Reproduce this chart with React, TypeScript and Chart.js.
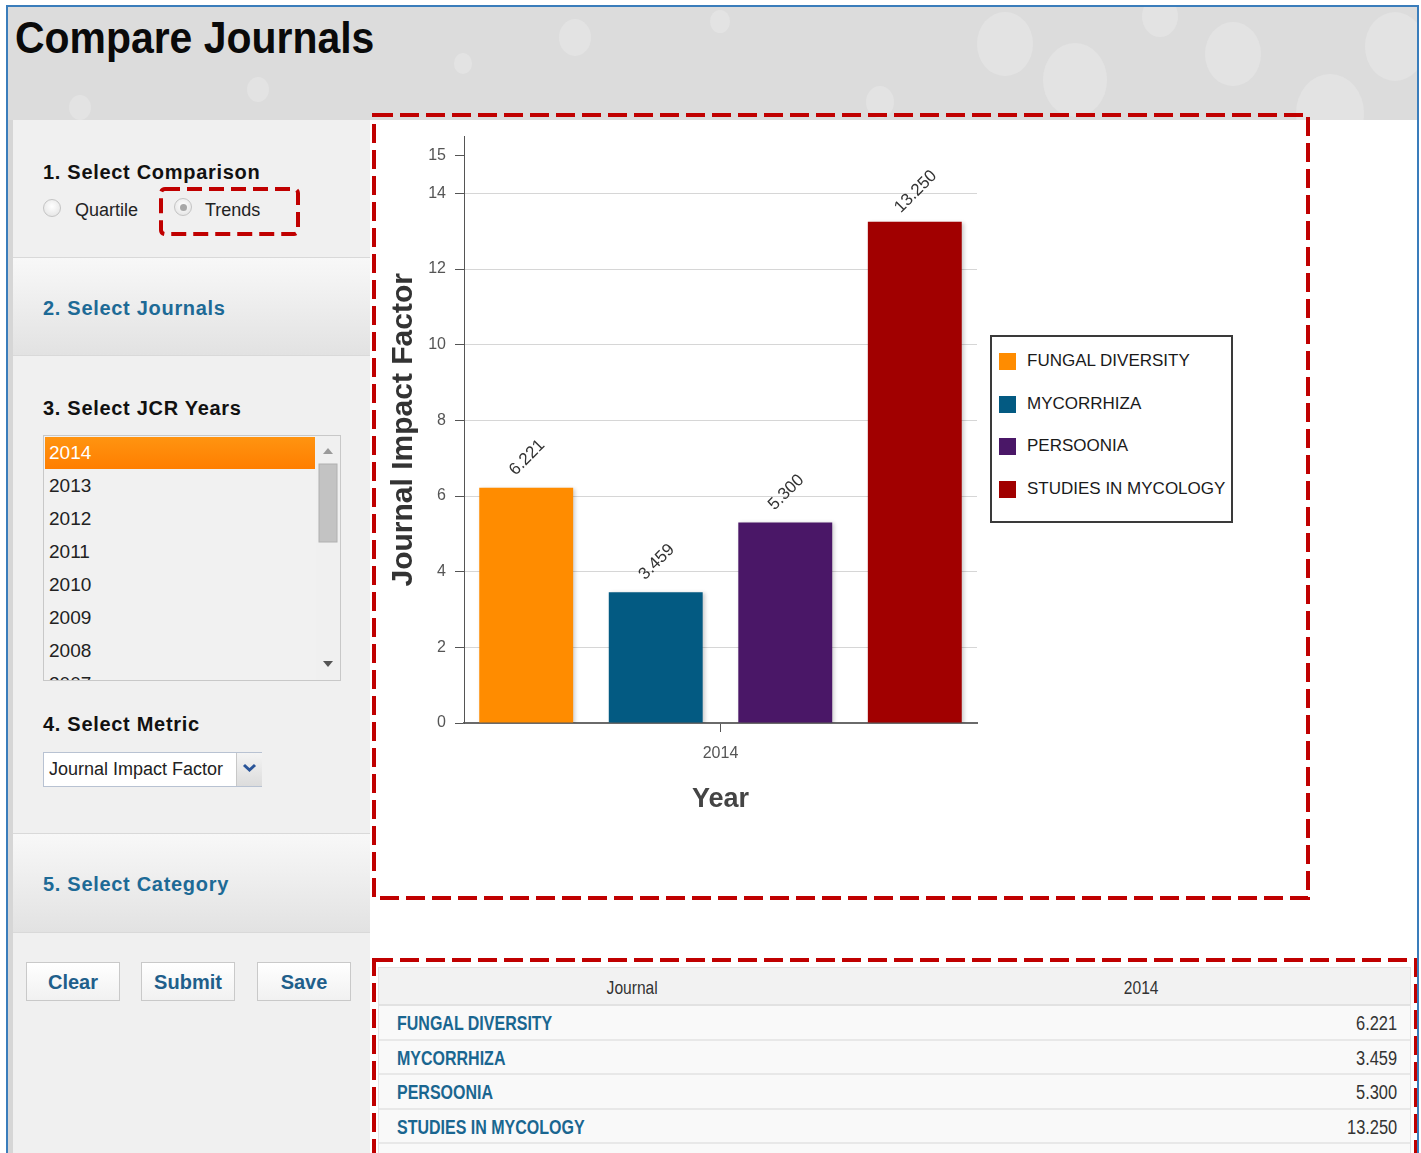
import React, { useEffect, useRef } from 'react';
import { Chart, registerables } from 'chart.js';

Chart.register(...registerables);

// ---------- data ----------
const categories = ['2014'];
const journals = ['FUNGAL DIVERSITY', 'MYCORRHIZA', 'PERSOONIA', 'STUDIES IN MYCOLOGY'];
const impactFactors = [6.221, 3.459, 5.3, 13.25];
const seriesColors = ['#ff8c00', '#035a82', '#4a1767', '#a10000'];
const yTickValues = [0, 2, 4, 6, 8, 10, 12, 14, 15];
const jcrYears = ['2014', '2013', '2012', '2011', '2010', '2009', '2008', '2007'];
const bubbles = [
  [575, 35, 16], [1005, 40, 28], [1075, 75, 32], [1233, 50, 28], [1330, 108, 34],
  [1395, 42, 30], [1160, 14, 18], [258, 88, 11], [80, 106, 11], [463, 62, 9],
  [880, 100, 14], [720, 20, 10],
];

const FONT = '"Liberation Sans", Arial, Helvetica, sans-serif';

const valueLabels = {
  id: 'valueLabels',
  beforeDatasetsDraw(chart: any) {
    const ctx = chart.ctx;
    ctx.save();
    ctx.shadowColor = 'rgba(0,0,0,0.2)';
    ctx.shadowBlur = 4;
    ctx.shadowOffsetX = 2;
    ctx.shadowOffsetY = 1;
  },
  afterDatasetsDraw(chart: any) {
    const ctx = chart.ctx;
    ctx.restore();
    ctx.save();
    ctx.font = '17px ' + FONT;
    ctx.fillStyle = '#333';
    ctx.textAlign = 'center';
    ctx.textBaseline = 'middle';
    chart.data.datasets.forEach((ds: any, i: number) => {
      const meta = chart.getDatasetMeta(i);
      meta.data.forEach((el: any, j: number) => {
        const v = ds.data[j] as number;
        ctx.save();
        ctx.translate(el.x + 1, el.y - 30);
        ctx.rotate(-Math.PI / 4);
        ctx.fillText(v.toFixed(3), 0, 0);
        ctx.restore();
      });
    });
    ctx.restore();
  },
};

function DashedBox({ x, y, w, h, dash = 19, gap = 7, sw = 4, rx = 0 }: any) {
  return (
    <svg
      style={{ position: 'absolute', left: x - sw, top: y - sw, overflow: 'visible' }}
      width={w + sw * 2}
      height={h + sw * 2}
    >
      <rect
        x={sw}
        y={sw}
        width={w}
        height={h}
        rx={rx}
        fill="none"
        stroke="#c00000"
        strokeWidth={sw}
        strokeDasharray={`${dash} ${gap}`}
      />
    </svg>
  );
}

function Txt({ x, y, size, children, style }: any) {
  return (
    <div
      style={{
        position: 'absolute',
        left: x,
        top: y - size * 0.6,
        fontSize: size,
        lineHeight: `${size * 1.2}px`,
        whiteSpace: 'nowrap',
        fontFamily: FONT,
        ...style,
      }}
    >
      {children}
    </div>
  );
}

function ChartCanvas() {
  const ref = useRef<HTMLCanvasElement>(null);
  useEffect(() => {
    if (!ref.current) return;
    const chart = new Chart(ref.current, {
      type: 'bar',
      data: {
        labels: categories,
        datasets: journals.map((name, i) => ({
          label: name,
          data: [impactFactors[i]],
          backgroundColor: seriesColors[i],
          borderWidth: 0,
          categoryPercentage: 1.01,
          barPercentage: 0.725,
        })),
      },
      options: {
        responsive: false,
        animation: false,
        layout: { padding: { left: 0, top: 16, right: 327, bottom: 0 } },
        plugins: { legend: { display: false }, tooltip: { enabled: false } },
        scales: {
          x: {
            grid: {
              display: true,
              drawOnChartArea: false,
              drawTicks: true,
              tickLength: 9,
              offset: false,
              color: '#555',
              tickColor: '#555',
            },
            border: { display: true, color: '#6a6a6a', width: 2 },
            ticks: { padding: 12, color: '#555', font: { family: FONT, size: 16 } },
            title: {
              display: true,
              text: 'Year',
              color: '#444',
              font: { family: FONT, size: 27, weight: 'bold' },
              padding: { top: 0, bottom: 80 },
            },
            afterFit: (s: any) => {
              s.height = 173;
            },
          },
          y: {
            min: 0,
            max: 15.5,
            afterBuildTicks: (s: any) => {
              s.ticks = yTickValues.map((v) => ({ value: v }));
            },
            ticks: {
              padding: 9,
              color: '#555',
              font: { family: FONT, size: 16 },
              callback: (v: any) => String(v),
            },
            grid: {
              color: (c: any) => (c.tick && c.tick.value === 15 ? 'rgba(0,0,0,0)' : '#d6d6d6'),
              tickColor: '#555',
              tickLength: 9,
              lineWidth: 1,
            },
            border: { display: true, color: '#555', width: 1 },
            title: {
              display: true,
              text: 'Journal Impact Factor',
              color: '#333',
              font: { family: FONT, size: 30, weight: 'bold' },
              padding: { top: 10, bottom: 0 },
            },
            afterFit: (s: any) => {
              s.width = 88;
            },
          },
        },
      } as any,
      plugins: [valueLabels as any],
    });
    return () => chart.destroy();
  }, []);
  return (
    <canvas
      ref={ref}
      width={928}
      height={778}
      style={{ position: 'absolute', left: 376, top: 118, width: 928, height: 778 }}
    />
  );
}

const headStyle = { fontWeight: 'bold', color: '#111', letterSpacing: '0.7px' };
const blueHead = { fontWeight: 'bold', color: '#1d6a96', letterSpacing: '0.7px' };

function Radio({ x, y, checked }: any) {
  return (
    <div
      style={{
        position: 'absolute',
        left: x - 9,
        top: y - 9,
        width: 16,
        height: 16,
        borderRadius: '50%',
        border: '1px solid #c4c4c4',
        background: 'radial-gradient(circle at 50% 40%, #ffffff, #e0e0e0)',
      }}
    >
      {checked && (
        <div
          style={{
            position: 'absolute',
            left: 4.5,
            top: 4.5,
            width: 7,
            height: 7,
            borderRadius: '50%',
            background: '#a8a8a8',
          }}
        />
      )}
    </div>
  );
}

function Button({ x, label }: any) {
  return (
    <div
      style={{
        position: 'absolute',
        left: x,
        top: 962,
        width: 94,
        height: 39,
        border: '1px solid #c9c9c9',
        background: 'linear-gradient(#ffffff, #f1f1f1)',
        boxSizing: 'border-box',
        textAlign: 'center',
        lineHeight: '39px',
        fontFamily: FONT,
        fontSize: 20,
        fontWeight: 'bold',
        color: '#1f5f8b',
      }}
    >
      {label}
    </div>
  );
}

export default function App() {
  useEffect(() => {
    document.body.style.margin = '0';
  }, []);
  const narrow = (s: number) => ({ display: 'inline-block', transform: `scaleX(${s})`, transformOrigin: 'left center' });
  return (
    <div
      style={{
        position: 'absolute',
        left: 0,
        top: 0,
        width: 1421,
        height: 1153,
        overflow: 'hidden',
        background: '#ffffff',
        fontFamily: FONT,
      }}
    >
      {/* header */}
      <div
        style={{
          position: 'absolute',
          left: 8,
          top: 7,
          width: 1409,
          height: 113,
          background: '#dcdcdc',
          overflow: 'hidden',
        }}
      >
        {bubbles.map(([bx, by, r], i) => (
          <div
            key={i}
            style={{
              position: 'absolute',
              left: bx - 8 - r,
              top: by - 7 - r,
              width: r * 2,
              height: r * 2 * 1.15,
              borderRadius: '50%',
              background: '#e3e3e3',
            }}
          />
        ))}
      </div>
      <div
        style={{
          position: 'absolute',
          left: 15,
          top: 12,
          fontSize: 44,
          fontWeight: 'bold',
          color: '#0a0a0a',
          lineHeight: '52px',
          whiteSpace: 'nowrap',
          transform: 'scaleX(0.93)',
          transformOrigin: 'left top',
        }}
      >
        Compare Journals
      </div>

      {/* left strip + panel */}
      <div style={{ position: 'absolute', left: 8, top: 120, width: 5, height: 1033, background: '#d6d6d6' }} />
      <div style={{ position: 'absolute', left: 13, top: 120, width: 357, height: 1033, background: '#f0f0f0' }} />
      <div
        style={{
          position: 'absolute',
          left: 13,
          top: 257,
          width: 357,
          height: 99,
          background: 'linear-gradient(#f8f8f8, #e2e2e2)',
          borderTop: '1px solid #d9d9d9',
          borderBottom: '1px solid #d9d9d9',
          boxSizing: 'border-box',
        }}
      />
      <div
        style={{
          position: 'absolute',
          left: 13,
          top: 833,
          width: 357,
          height: 100,
          background: 'linear-gradient(#f8f8f8, #e2e2e2)',
          borderTop: '1px solid #d9d9d9',
          borderBottom: '1px solid #d9d9d9',
          boxSizing: 'border-box',
        }}
      />

      <Txt x={43} y={172} size={20} style={headStyle}>1. Select Comparison</Txt>
      <Radio x={52} y={208} checked={false} />
      <Txt x={75} y={211} size={18} style={{ color: '#222' }}>Quartile</Txt>
      <Radio x={183} y={207} checked={true} />
      <Txt x={205} y={211} size={18} style={{ color: '#222' }}>Trends</Txt>

      <Txt x={43} y={308} size={20} style={blueHead}>2. Select Journals</Txt>
      <Txt x={43} y={408} size={20} style={headStyle}>3. Select JCR Years</Txt>

      {/* year list */}
      <div
        style={{
          position: 'absolute',
          left: 43,
          top: 435,
          width: 298,
          height: 246,
          border: '1px solid #c8c8c8',
          boxSizing: 'border-box',
          background: '#f1f1f1',
          overflow: 'hidden',
        }}
      >
        {jcrYears.map((yr, i) => (
          <div
            key={yr}
            style={{
              position: 'absolute',
              left: 1,
              top: 1 + i * 33,
              width: 270,
              height: 32,
              background: i === 0 ? 'linear-gradient(#ff9410, #ff7e00)' : 'transparent',
              color: i === 0 ? '#ffffff' : '#222',
              fontSize: 19,
              lineHeight: '32px',
              paddingLeft: 4,
              boxSizing: 'border-box',
            }}
          >
            {yr}
          </div>
        ))}
        <div style={{ position: 'absolute', left: 272, top: 0, width: 24, height: 244, background: '#f0f0f0' }} />
        <svg style={{ position: 'absolute', left: 272, top: 0 }} width={24} height={244}>
          <polygon points="7,18 17,18 12,12" fill="#9a9a9a" />
          <rect x={3} y={28} width={18} height={78} fill="#c3c3c3" stroke="#b0b0b0" />
          <polygon points="7,225 17,225 12,231" fill="#555" />
        </svg>
      </div>

      <Txt x={43} y={724} size={20} style={headStyle}>4. Select Metric</Txt>
      <div
        style={{
          position: 'absolute',
          left: 43,
          top: 752,
          width: 219,
          height: 35,
          border: '1px solid #b8c2d2',
          boxSizing: 'border-box',
          background: '#fff',
        }}
      >
        <div style={{ position: 'absolute', left: 5, top: 0, fontSize: 18, lineHeight: '33px', color: '#222', whiteSpace: 'nowrap' }}>
          Journal Impact Factor
        </div>
        <div
          style={{
            position: 'absolute',
            left: 192,
            top: 0,
            width: 25,
            height: 33,
            background: 'linear-gradient(#f4f4f4, #dcdcdc)',
            borderLeft: '1px solid #c8c8c8',
          }}
        >
          <svg width={25} height={33}>
            <polyline points="7,12 12.5,17 18,12" fill="none" stroke="#2a5599" strokeWidth={3} />
          </svg>
        </div>
      </div>

      <Txt x={43} y={884} size={20} style={blueHead}>5. Select Category</Txt>

      <Button x={26} label="Clear" />
      <Button x={141} label="Submit" />
      <Button x={257} label="Save" />

      {/* chart */}
      <ChartCanvas />

      {/* legend */}
      <div
        style={{
          position: 'absolute',
          left: 990,
          top: 335,
          width: 243,
          height: 188,
          border: '2px solid #3a3a3a',
          boxSizing: 'border-box',
          background: '#fff',
        }}
      >
        {journals.map((name, i) => (
          <div key={name}>
            <div
              style={{
                position: 'absolute',
                left: 7,
                top: 16 + i * 42.7,
                width: 17,
                height: 17,
                background: seriesColors[i],
              }}
            />
            <div
              style={{
                position: 'absolute',
                left: 35,
                top: 13 + i * 42.7,
                fontSize: 17,
                lineHeight: '22px',
                color: '#1a1a1a',
                whiteSpace: 'nowrap',
              }}
            >
              {name}
            </div>
          </div>
        ))}
      </div>

      {/* table */}
      <div
        style={{
          position: 'absolute',
          left: 378,
          top: 967,
          width: 1033,
          height: 190,
          background: '#f9f9f9',
          borderLeft: '1px solid #e2e2e2',
          borderRight: '1px solid #e2e2e2',
          boxSizing: 'border-box',
        }}
      >
        <div
          style={{
            position: 'absolute',
            left: 0,
            top: 0,
            width: 1031,
            height: 39,
            background: '#f2f2f2',
            borderTop: '1px solid #e2e2e2',
            borderBottom: '2px solid #e2e2e2',
            boxSizing: 'border-box',
          }}
        />
        <div style={{ position: 'absolute', left: 253 - 40, width: 80, top: 9, textAlign: 'center', fontSize: 19, lineHeight: '24px', color: '#333' }}>
          <span style={{ display: 'inline-block', transform: 'scaleX(0.82)' }}>Journal</span>
        </div>
        <div style={{ position: 'absolute', left: 762 - 40, width: 80, top: 9, textAlign: 'center', fontSize: 19, lineHeight: '24px', color: '#333' }}>
          <span style={{ display: 'inline-block', transform: 'scaleX(0.82)' }}>{categories[0]}</span>
        </div>
        {journals.map((name, i) => (
          <div
            key={name}
            style={{
              position: 'absolute',
              left: 0,
              top: 39 + i * 34.6,
              width: 1031,
              height: 34.6,
              borderBottom: '2px solid #e8e8e8',
              boxSizing: 'border-box',
            }}
          >
            <div style={{ position: 'absolute', left: 18, top: 4, fontSize: 20, lineHeight: '26px', fontWeight: 'bold', color: '#1a6690', whiteSpace: 'nowrap' }}>
              <span style={narrow(0.8)}>{name}</span>
            </div>
            <div style={{ position: 'absolute', right: 13, top: 4, fontSize: 20, lineHeight: '26px', color: '#333', whiteSpace: 'nowrap' }}>
              <span style={{ display: 'inline-block', transform: 'scaleX(0.82)', transformOrigin: 'right center' }}>
                {impactFactors[i].toFixed(3)}
              </span>
            </div>
          </div>
        ))}
      </div>

      {/* dashed highlight boxes */}
      <DashedBox x={161} y={189} w={137} h={45} dash={15} gap={7} sw={4} rx={4} />
      <DashedBox x={374} y={115} w={934} h={783} />
      <DashedBox x={374} y={960} w={1042} h={240} />

      {/* outer blue frame */}
      <div
        style={{
          position: 'absolute',
          left: 6,
          top: 5,
          width: 1413,
          height: 1200,
          border: '2px solid #3a7dbb',
          boxSizing: 'border-box',
          pointerEvents: 'none',
        }}
      />
    </div>
  );
}
